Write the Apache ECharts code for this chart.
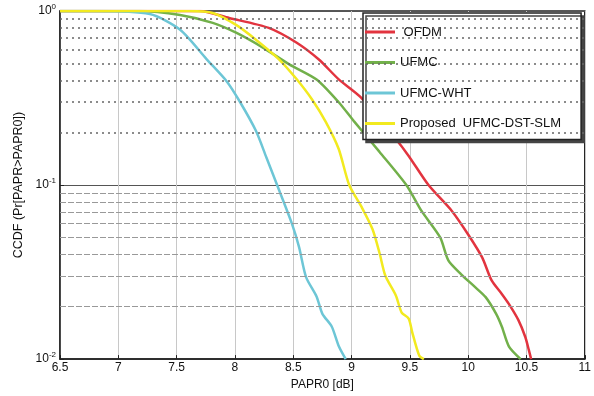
<!DOCTYPE html>
<html>
<head>
<meta charset="utf-8">
<script src="https://cdn.jsdelivr.net/npm/echarts@6/dist/echarts.min.js"></script>
<style>
  html, body { margin: 0; padding: 0; background: #fff; }
  #chart { width: 594px; height: 396px; }
</style>
</head>
<body>
<div id="chart"></div>
<script>
// PAPR0 [dB] and CCDF, one pair of arrays per curve
const paprOfdm = [6.5, 7.70, 7.95, 8.29, 8.53, 8.72, 8.89, 9.08, 9.38, 9.49, 9.66, 9.86, 10.00, 10.12, 10.20, 10.29, 10.35, 10.43, 10.49, 10.52, 10.54]
const ccdfOfdm = [1, 1, 0.912, 0.80, 0.657, 0.526, 0.405, 0.319, 0.184, 0.147, 0.100, 0.071, 0.052, 0.0384, 0.0284, 0.0236, 0.0207, 0.0168, 0.0134, 0.0113, 0.0100]

const paprUfmc = [6.5, 7.18, 7.53, 7.81, 8.01, 8.24, 8.47, 8.70, 8.89, 9.02, 9.24, 9.47, 9.60, 9.76, 9.83, 9.94, 10.06, 10.15, 10.24, 10.29, 10.35, 10.45]
const ccdfUfmc = [1, 1, 0.949, 0.855, 0.75, 0.616, 0.492, 0.404, 0.299, 0.233, 0.155, 0.100, 0.071, 0.050, 0.0369, 0.0307, 0.0259, 0.0227, 0.0182, 0.0153, 0.0118, 0.0100]

const paprWht = [6.5, 6.80, 7.27, 7.53, 7.76, 7.93, 8.04, 8.18, 8.27, 8.38, 8.49, 8.55, 8.61, 8.70, 8.75, 8.83, 8.89, 8.95]
const ccdfWht = [1, 1, 0.96, 0.78, 0.526, 0.394, 0.303, 0.205, 0.144, 0.093, 0.0596, 0.044, 0.0296, 0.0229, 0.0182, 0.0154, 0.0119, 0.0100]

const paprDst = [6.5, 7.61, 7.81, 8.01, 8.18, 8.38, 8.53, 8.66, 8.78, 8.89, 8.98, 9.09, 9.18, 9.24, 9.29, 9.38, 9.43, 9.49, 9.52, 9.58, 9.62]
const ccdfDst = [1, 1, 0.974, 0.832, 0.684, 0.526, 0.405, 0.311, 0.230, 0.161, 0.100, 0.074, 0.0557, 0.0407, 0.0301, 0.0232, 0.0185, 0.0171, 0.0143, 0.0105, 0.0100]

const names = ['OFDM', 'UFMC', 'UFMC-WHT', 'Proposed  UFMC-DST-SLM']
const colors = ['#e2343f', '#72b04a', '#6dc6d6', '#f2ea1f']

// minor decade lines
const upperMinor = [0.2, 0.3, 0.4, 0.5, 0.6, 0.7, 0.8, 0.9]
const lowerMinor = [0.02, 0.03, 0.04, 0.05, 0.06, 0.07, 0.08, 0.09]

const pairs = (xs, ys) => xs.map((x, i) => [x, ys[i]])
const curves = [
  pairs(paprOfdm, ccdfOfdm),
  pairs(paprUfmc, ccdfUfmc),
  pairs(paprWht, ccdfWht),
  pairs(paprDst, ccdfDst),
]

const font = 'Liberation Sans, Arial, sans-serif'
const chart = echarts.init(document.getElementById('chart'), null, { renderer: 'canvas' })

const lineSeries = curves.map((data, i) => ({
  name: names[i],
  type: 'line',
  data: data,
  showSymbol: false,
  smooth: 0.25,
  color: colors[i],
  lineStyle: { width: 2.5, color: colors[i] },
  z: 3,
}))

const gridSeries = {
  name: 'grid',
  type: 'line',
  data: [],
  silent: true,
  z: 1,
  markLine: {
    silent: true,
    symbol: 'none',
    label: { show: false },
    animation: false,
    data: upperMinor.map(v => ({ yAxis: v, lineStyle: { color: '#666', width: 1.5, type: [2, 4] } }))
      .concat(lowerMinor.map(v => ({ yAxis: v, lineStyle: { color: '#999', width: 1, type: [6, 2] } }))),
  },
}

const option = {
  backgroundColor: '#fff',
  animation: false,
  textStyle: { fontFamily: font },
  grid: {
    left: 60, right: 9, top: 11, bottom: 34,
    show: true, borderColor: '#222', borderWidth: 1.5,
  },
  legend: {
    data: names,
    orient: 'vertical',
    left: 363,
    top: 13,
    padding: [12, 20, 9, 2],
    itemGap: 16.5,
    itemWidth: 30,
    itemHeight: 3,
    icon: 'rect',
    backgroundColor: '#fff',
    borderColor: '#222',
    borderWidth: 1.5,
    shadowColor: '#444',
    shadowOffsetX: 3,
    shadowOffsetY: 3,
    shadowBlur: 0,
    formatter: n => (n === 'OFDM' ? ' ' + n : n),
    textStyle: { fontSize: 13, color: '#111', fontFamily: font, lineHeight: 14 },
  },
  xAxis: {
    type: 'value',
    min: 6.5,
    max: 11,
    interval: 0.5,
    name: 'PAPR0 [dB]',
    nameLocation: 'middle',
    nameGap: 18,
    nameTextStyle: { fontSize: 12, color: '#111' },
    axisLine: { lineStyle: { color: '#222', width: 1.5 } },
    axisTick: { inside: true, length: 4, lineStyle: { color: '#222' } },
    axisLabel: { fontSize: 12, color: '#111', margin: 3 },
    splitLine: { show: true, lineStyle: { color: '#c8c8c8', width: 1 } },
  },
  yAxis: {
    type: 'log',
    logBase: 10,
    min: 0.01,
    max: 1,
    name: 'CCDF (Pr[PAPR>PAPR0])',
    nameLocation: 'middle',
    nameGap: 31,
    nameTextStyle: { fontSize: 12.5, color: '#111' },
    axisLine: { lineStyle: { color: '#222', width: 1.5 } },
    axisTick: { inside: true, length: 4, lineStyle: { color: '#222' } },
    axisLabel: {
      margin: 4,
      color: '#111',
      formatter: v => '{b|10}{s|' + Math.round(Math.log10(v)) + '}',
      rich: {
        b: { fontSize: 12, color: '#111' },
        s: { fontSize: 8, color: '#111', verticalAlign: 'bottom', padding: [0, 0, 8, 0] },
      },
    },
    splitLine: { show: true, lineStyle: { color: '#555', width: 1.2 } },
  },
  series: [gridSeries].concat(lineSeries),
}

chart.setOption(option)
</script>
</body>
</html>
